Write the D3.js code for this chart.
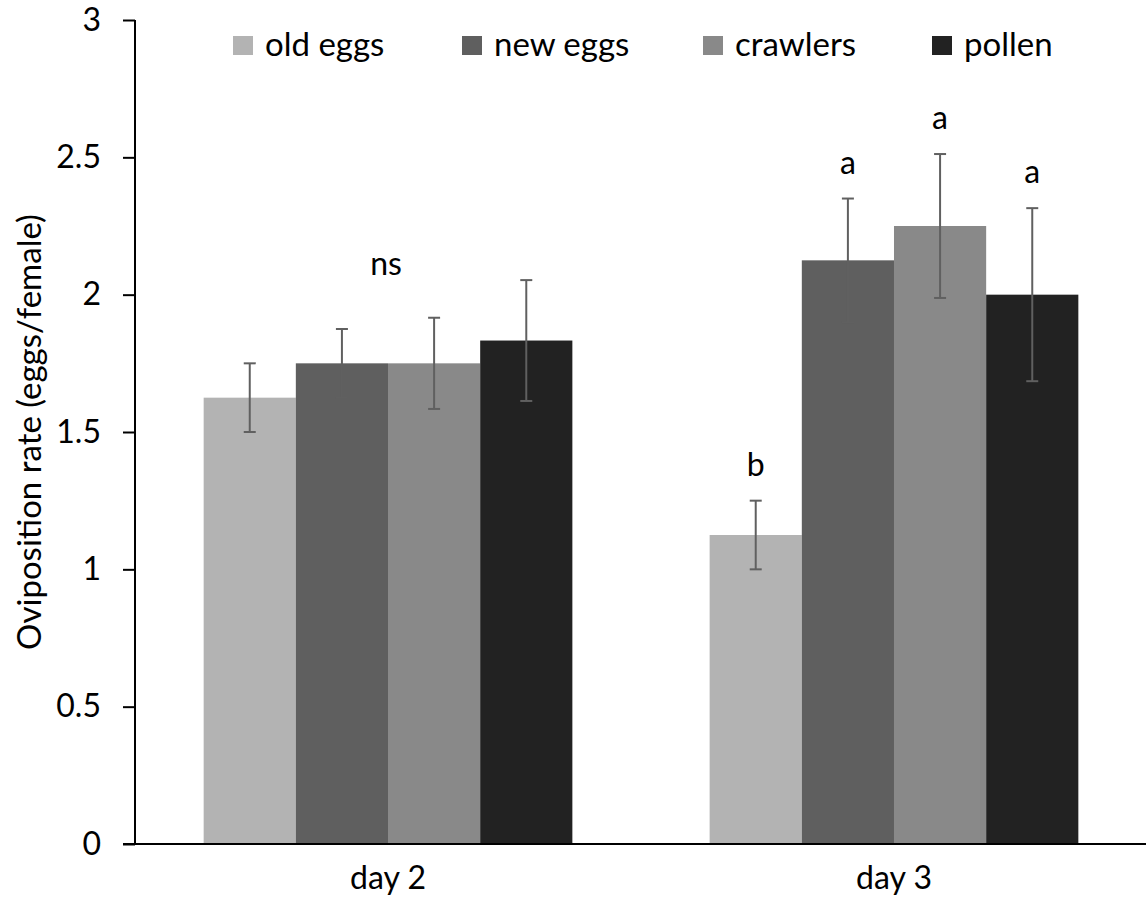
<!DOCTYPE html>
<html>
<head>
<meta charset="utf-8">
<script src="https://cdn.jsdelivr.net/npm/d3@7"></script>
<style>
  body { margin: 0; background: #fff; }
  text { font-family: Lato, "Open Sans", sans-serif; fill: #000; }
</style>
</head>
<body>
<div id="chart"></div>
<script>
const days = ["day 2", "day 3"];
const series = ["old eggs", "new eggs", "crawlers", "pollen"];
const colors = ["#b3b3b3", "#5f5f5f", "#898989", "#222222"];

// mean oviposition rate per series, one entry per day
const means = {
  "old eggs": [1.625, 1.125],
  "new eggs": [1.75, 2.125],
  "crawlers": [1.75, 2.25],
  "pollen":   [1.833, 2.0]
};
const errors = {
  "old eggs": [0.125, 0.125],
  "new eggs": [0.125, 0.225],
  "crawlers": [0.166, 0.262],
  "pollen":   [0.22, 0.315]
};
// significance letters for day 3, "ns" for day 2
const day3Letters = ["b", "a", "a", "a"];
const day2Label = "ns";
const yTicks = [0, 0.5, 1, 1.5, 2, 2.5, 3];

const width = 1146, height = 913;
const plotLeft = 135, plotRight = 1147, plotTop = 20, plotBottom = 844;
const fontSize = 32;

const svg = d3.select("#chart").append("svg")
  .attr("width", width)
  .attr("height", height);

const x0 = d3.scaleBand().domain(days).range([plotLeft, plotRight])
  .paddingInner(0.2713).paddingOuter(0.1357);
const x1 = d3.scaleBand().domain(series).range([0, x0.bandwidth()]);
const y = d3.scaleLinear().domain([0, 3]).range([plotBottom, plotTop]);

const rows = [];
days.forEach((day, i) => {
  series.forEach((s, j) => {
    rows.push({ day, s, j, v: means[s][i], e: errors[s][i] });
  });
});

// bars
svg.append("g").selectAll("rect")
  .data(rows)
  .join("rect")
  .attr("x", d => x0(d.day) + x1(d.s))
  .attr("y", d => y(d.v))
  .attr("width", x1.bandwidth())
  .attr("height", d => y(0) - y(d.v))
  .attr("fill", d => colors[d.j]);

// error bars
const eg = svg.append("g").attr("stroke", "#606060").attr("stroke-width", 2);
rows.forEach(d => {
  const cx = x0(d.day) + x1(d.s) + x1.bandwidth() / 2;
  eg.append("line").attr("x1", cx).attr("x2", cx)
    .attr("y1", y(d.v + d.e)).attr("y2", y(d.v - d.e));
  [d.v + d.e, d.v - d.e].forEach(v => {
    eg.append("line").attr("x1", cx - 6).attr("x2", cx + 6)
      .attr("y1", y(v)).attr("y2", y(v));
  });
});

// significance labels
svg.append("g").selectAll("text")
  .data(rows.filter(d => d.day === "day 3"))
  .join("text")
  .attr("x", d => x0(d.day) + x1(d.s) + x1.bandwidth() / 2)
  .attr("y", d => y(d.v + d.e) - 25)
  .attr("text-anchor", "middle")
  .attr("font-size", fontSize)
  .text(d => day3Letters[d.j]);

svg.append("text")
  .attr("x", x0("day 2") + x0.bandwidth() / 2 - 2)
  .attr("y", y(d3.max(rows.filter(d => d.day === "day 2"), d => d.v + d.e)) - 5)
  .attr("text-anchor", "middle")
  .attr("font-size", fontSize)
  .text(day2Label);

// y axis
const yAxis = svg.append("g")
  .attr("transform", `translate(${plotLeft},0)`)
  .call(d3.axisLeft(y).tickValues(yTicks).tickSize(12).tickPadding(22)
    .tickFormat(d3.format("")));
yAxis.selectAll("line").attr("stroke", "#000").attr("stroke-width", 2);
yAxis.select(".domain").attr("stroke", "#000").attr("stroke-width", 2)
  .attr("d", `M-0,${plotTop}V${plotBottom}`);
yAxis.selectAll("text").attr("font-size", fontSize).attr("font-family", "Lato, sans-serif")
  .attr("fill", "#000");

// x axis line
svg.append("line")
  .attr("x1", plotLeft - 12).attr("x2", width)
  .attr("y1", y(0)).attr("y2", y(0))
  .attr("stroke", "#000").attr("stroke-width", 2);

svg.append("g").selectAll("text")
  .data(days)
  .join("text")
  .attr("x", d => x0(d) + x0.bandwidth() / 2)
  .attr("y", 889)
  .attr("text-anchor", "middle")
  .attr("font-size", fontSize)
  .text(d => d);

// y label
svg.append("text")
  .attr("transform", `translate(41,${(plotTop + plotBottom) / 2}) rotate(-90)`)
  .attr("text-anchor", "middle")
  .attr("font-size", 33)
  .text("Oviposition rate (eggs/female)");

// legend
const legendX = [233, 462, 703, 932];
const legend = svg.append("g").selectAll("g")
  .data(series)
  .join("g")
  .attr("transform", (d, i) => `translate(${legendX[i]},36)`);
legend.append("rect")
  .attr("width", 20).attr("height", 19)
  .attr("fill", (d, i) => colors[i]);
legend.append("text")
  .attr("x", 32).attr("y", 20)
  .attr("font-size", 33)
  .text(d => d);
</script>
</body>
</html>
